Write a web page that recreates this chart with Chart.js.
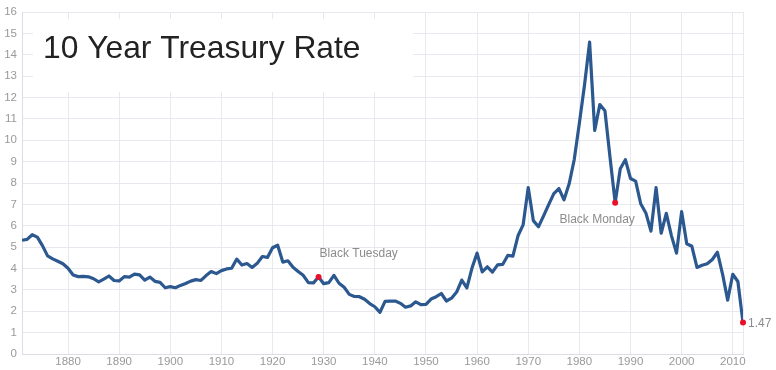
<!DOCTYPE html>
<html>
<head>
<meta charset="utf-8">
<script src="https://cdn.jsdelivr.net/npm/chart.js@4"></script>
<style>
  html, body { margin: 0; padding: 0; background: #fff; }
  #wrap { width: 776px; height: 370px; position: relative; }
</style>
</head>
<body>
<div id="wrap"><canvas id="c" width="776" height="370"></canvas></div>
<script>
const years = [];
for (let y = 1871; y <= 2012; y++) years.push(y);

const rates = [
  5.32, 5.36, 5.58, 5.47, 5.07, 4.59, 4.45, 4.34, 4.22, 4.01,
  3.70, 3.62, 3.63, 3.61, 3.52, 3.37, 3.50, 3.65, 3.44, 3.42,
  3.62, 3.60, 3.74, 3.70, 3.46, 3.60, 3.40, 3.35, 3.10, 3.15,
  3.10, 3.21, 3.30, 3.41, 3.48, 3.44, 3.67, 3.86, 3.76, 3.90,
  3.98, 4.01, 4.44, 4.16, 4.23, 4.05, 4.24, 4.56, 4.52, 4.97,
  5.09, 4.30, 4.36, 4.06, 3.86, 3.68, 3.34, 3.33, 3.60, 3.29,
  3.34, 3.68, 3.31, 3.12, 2.79, 2.69, 2.68, 2.56, 2.36, 2.21,
  1.95, 2.46, 2.47, 2.48, 2.37, 2.19, 2.25, 2.44, 2.31, 2.32,
  2.57, 2.68, 2.83, 2.48, 2.61, 2.90, 3.46, 3.09, 4.02, 4.72,
  3.84, 4.08, 3.83, 4.17, 4.19, 4.61, 4.58, 5.53, 6.04, 7.79,
  6.24, 5.95, 6.46, 6.99, 7.50, 7.74, 7.21, 7.96, 9.10, 10.80,
  12.57, 14.59, 10.46, 11.67, 11.38, 9.19, 7.08, 8.67, 9.09, 8.21,
  8.09, 7.03, 6.60, 5.75, 7.78, 5.65, 6.58, 5.54, 4.72, 6.66,
  5.16, 5.04, 4.05, 4.15, 4.22, 4.42, 4.76, 3.74, 2.52, 3.73,
  3.39, 1.47
];

const xTicks = [1880, 1890, 1900, 1910, 1920, 1930, 1940, 1950, 1960, 1970, 1980, 1990, 2000, 2010];
const yTicks = [0,1,2,3,4,5,6,7,8,9,10,11,12,13,14,15,16];

const titleText = "10 Year Treasury Rate";
const eventYears = [1929, 1987, 2012];
const eventLabels = ["Black Tuesday", "Black Monday", "1.47"];

const seriesPoints = years.map((y, i) => ({ x: y, y: rates[i] }));
const eventPoints = eventYears.map(y => ({ x: y, y: rates[years.indexOf(y)] }));

const GRID = '#e8e8ef';
const TICK_COLOR = '#999999';
const FONT = '"Liberation Sans", Arial, Helvetica, sans-serif';

const overlay = {
  id: 'overlay',
  beforeDatasetsDraw(chart) {
    const ctx = chart.ctx;
    ctx.save();
    ctx.fillStyle = '#ffffff';
    ctx.fillRect(33, 19, 380, 73);
    ctx.fillStyle = '#222222';
    ctx.font = '31.8px ' + FONT;
    ctx.textBaseline = 'alphabetic';
    ctx.textAlign = 'left';
    ctx.fillText(titleText, 43, 58);
    ctx.restore();
  },
  afterDatasetsDraw(chart) {
    const ctx = chart.ctx;
    const xs = chart.scales.x, ys = chart.scales.y;
    ctx.save();
    ctx.font = '12px ' + FONT;
    ctx.fillStyle = '#8c8c8c';
    ctx.textBaseline = 'middle';
    let p = eventPoints[0];
    ctx.textAlign = 'left';
    ctx.fillText(eventLabels[0], xs.getPixelForValue(p.x) + 1, ys.getPixelForValue(p.y) - 23);
    p = eventPoints[1];
    ctx.textAlign = 'center';
    ctx.fillText(eventLabels[1], xs.getPixelForValue(p.x) - 18, ys.getPixelForValue(p.y) + 17);
    p = eventPoints[2];
    ctx.textAlign = 'left';
    ctx.fillText(eventLabels[2], xs.getPixelForValue(p.x) + 5, ys.getPixelForValue(p.y) + 1);
    ctx.restore();
  }
};

new Chart(document.getElementById('c'), {
  type: 'line',
  data: {
    datasets: [
      {
        data: eventPoints,
        showLine: false,
        pointRadius: 3,
        pointBackgroundColor: '#e8102a',
        pointBorderWidth: 0,
        clip: false,
        order: 0
      },
      {
        data: seriesPoints,
        borderColor: '#2c5890',
        borderWidth: 3.2,
        pointRadius: 0,
        tension: 0,
        fill: false,
        borderJoinStyle: 'round',
        order: 1
      }
    ]
  },
  options: {
    responsive: false,
    animation: false,
    events: [],
    layout: { padding: { left: 0, right: 33, top: 12, bottom: 0 } },
    plugins: { legend: { display: false }, tooltip: { enabled: false }, title: { display: false } },
    scales: {
      x: {
        type: 'linear',
        min: 1871,
        max: 2012,
        afterBuildTicks(scale) {
          scale.ticks = [{ value: 1871 }].concat(xTicks.map(v => ({ value: v }))).concat([{ value: 2012 }]);
        },
        afterFit(scale) { scale.height = 16; },
        grid: { color: GRID, drawTicks: false, lineWidth: 1 },
        border: { color: '#dcdce6' },
        ticks: {
          padding: 1,
          color: TICK_COLOR,
          font: { size: 11.5, family: FONT },
          maxRotation: 0,
          autoSkip: false,
          callback: v => (xTicks.includes(v) ? String(v) : '')
        }
      },
      y: {
        min: 0,
        max: 16,
        afterBuildTicks(scale) {
          scale.ticks = yTicks.map(v => ({ value: v }));
        },
        afterFit(scale) { scale.width = 22; },
        grid: { color: GRID, drawTicks: false, lineWidth: 1 },
        border: { color: '#dcdce6' },
        ticks: {
          padding: 5,
          color: TICK_COLOR,
          font: { size: 11.5, family: FONT },
          autoSkip: false
        }
      }
    }
  },
  plugins: [overlay]
});
</script>
</body>
</html>
